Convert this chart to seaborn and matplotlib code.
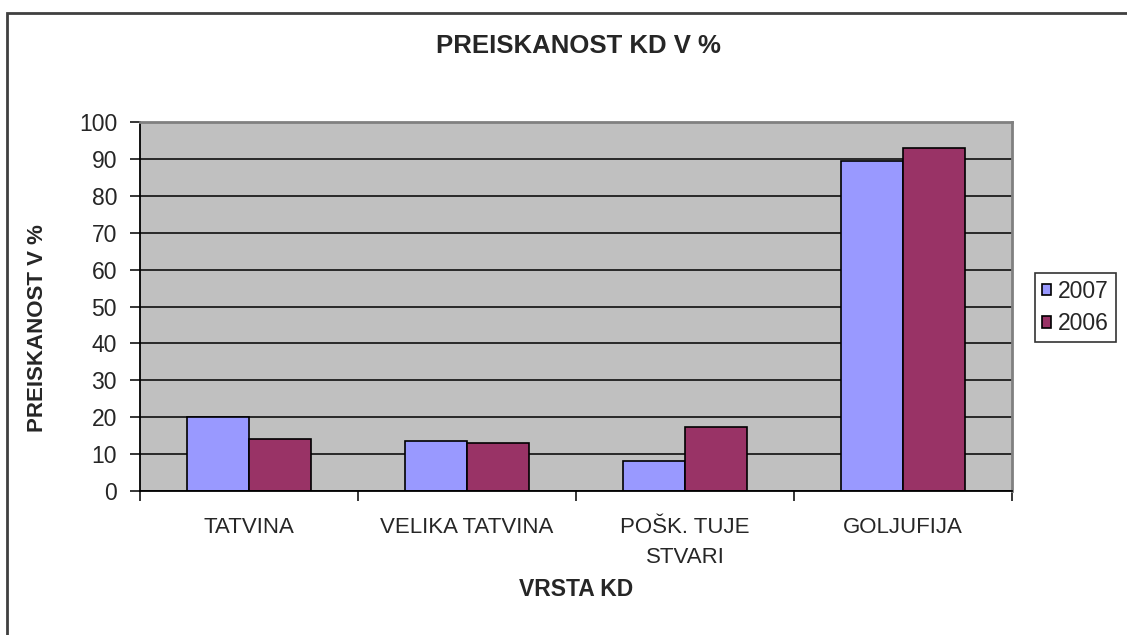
import matplotlib
matplotlib.use("Agg")
import matplotlib.pyplot as plt
import seaborn as sns
import pandas as pd
from matplotlib.patches import Rectangle
from matplotlib.ticker import FixedLocator

categories = ["TATVINA", "VELIKA TATVINA", "POŠK. TUJE\nSTVARI", "GOLJUFIJA"]
years = ["2007", "2006"]
values_2007 = [20, 13.5, 8, 89.5]
values_2006 = [14, 13, 17.3, 93]
y_ticks = [0, 10, 20, 30, 40, 50, 60, 70, 80, 90, 100]

df = pd.DataFrame({
    "kd": categories * 2,
    "leto": [years[0]] * 4 + [years[1]] * 4,
    "val": values_2007 + values_2006,
})

sns.set_theme(style="white")
plt.rcParams["font.family"] = ["Liberation Sans", "DejaVu Sans"]

W, H = 1127, 635
fig = plt.figure(figsize=(W / 100, H / 100), dpi=100)
fig.patch.set_facecolor("white")
ax = fig.add_axes([140 / W, 1 - 491 / H, (1012 - 140) / W, (491 - 122) / H])
ax.set_facecolor("#C0C0C0")

sns.barplot(data=df, x="kd", y="val", hue="leto", hue_order=years,
            palette=["#9999FF", "#993366"], edgecolor="black", linewidth=1.2,
            width=0.57, gap=0, ax=ax, legend=True, saturation=1)

ax.set_xlim(-0.5, 3.5)
ax.set_ylim(0, 100)
ax.set_yticks(y_ticks)
ax.yaxis.grid(True, color="black", linewidth=1.1)
ax.set_axisbelow(True)
ax.tick_params(axis="y", direction="out", length=7.5, width=1.1, color="black",
               labelsize=16.5, pad=9, left=True)
ax.tick_params(axis="x", which="major", length=0, labelsize=16, pad=19)
ax.xaxis.set_minor_locator(FixedLocator([-0.5, 0.5, 1.5, 2.5, 3.5]))
ax.tick_params(axis="x", which="minor", direction="out", length=7.5, width=1.1,
               color="black", bottom=True)
for lab in ax.get_xticklabels():
    lab.set_linespacing(1.55)
    lab.set_verticalalignment("top")

for side in ["top", "right"]:
    ax.spines[side].set_color("#808080")
    ax.spines[side].set_linewidth(2)
for side in ["left", "bottom"]:
    ax.spines[side].set_color("black")
    ax.spines[side].set_linewidth(1.3)

ax.set_xlabel("")
ax.set_ylabel("")
fig.text(576 / W, 1 - 590 / H, "VRSTA KD", fontsize=16.5, fontweight="bold",
         ha="center", va="center")
fig.text(38 / W, 1 - 328 / H, "PREISKANOST V %", fontsize=16, fontweight="bold",
         ha="center", va="center", rotation=90)
fig.text(578 / W, 1 - 46 / H, "PREISKANOST KD V %", fontsize=18.5,
         fontweight="bold", ha="center", va="center")

handles, labels = ax.get_legend_handles_labels()
ax.get_legend().remove()
leg = fig.legend(handles, labels, loc="upper left",
                 bbox_to_anchor=(1035 / W, 1 - 273 / H),
                 frameon=True, fontsize=16.5, handlelength=0.4, handleheight=0.4,
                 handletextpad=0.3, borderpad=0.3, labelspacing=0.4,
                 fancybox=False, borderaxespad=0)
leg.get_frame().set_edgecolor("black")
leg.get_frame().set_linewidth(1.2)

fig.patches.append(Rectangle((7 / W, -0.1), 1.2, 1 - 13 / H + 0.1,
                             transform=fig.transFigure, fill=False,
                             edgecolor="#404040", linewidth=2, zorder=0))

fig.savefig("out.png", dpi=100)
